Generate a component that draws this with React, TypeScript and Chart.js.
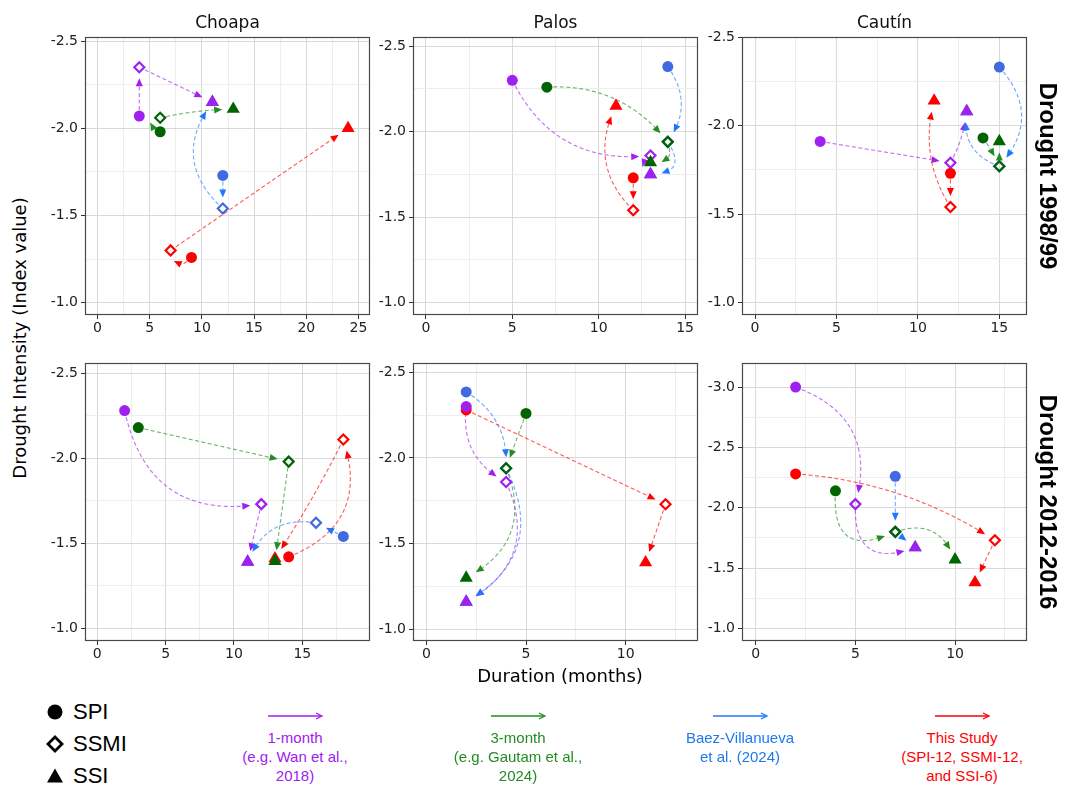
import React, { useEffect, useRef } from 'react';
import { Chart, registerables } from 'chart.js';
Chart.register(...registerables);

// ---------- DATA ----------
// Each array: 1-month (SPI, SSMI, SSI), 3-month (SPI, SSMI, SSI),
// Baez-Villanueva (SPI, SSMI, SSI), This Study (SPI, SSMI, SSI)
const choapa98Duration = [4, 4, 11, 6, 6, 13, 12, 12, 11, 9, 7, 24];
const choapa98Intensity = [-2.07, -2.35, -2.15, -1.98, -2.06, -2.11, -1.73, -1.54, -2.15, -1.26, -1.3, -2.0];
const palos98Duration = [5, 13, 13, 7, 14, 13, 14, 14, 13, 12, 12, 11];
const palos98Intensity = [-2.3, -1.86, -1.75, -2.26, -1.94, -1.82, -2.38, -1.94, -1.75, -1.73, -1.54, -2.15];
const cautin98Duration = [4, 12, 13, 14, 15, 15, 15, 15, 13, 12, 12, 11];
const cautin98Intensity = [-1.91, -1.79, -2.08, -1.93, -1.77, -1.91, -2.33, -1.77, -2.08, -1.73, -1.54, -2.14];
const choapa12Duration = [2, 12, 11, 3, 14, 13, 18, 16, 11, 14, 18, 13];
const choapa12Intensity = [-2.28, -1.73, -1.39, -2.18, -1.98, -1.395, -1.54, -1.62, -1.39, -1.42, -2.11, -1.41];
const palos12Duration = [2, 4, 2, 5, 4, 2, 2, 4, 2, 2, 12, 11];
const palos12Intensity = [-2.3, -1.86, -1.16, -2.26, -1.94, -1.3, -2.385, -1.94, -1.16, -2.28, -1.73, -1.39];
const cautin12Duration = [2, 5, 8, 4, 7, 10, 7, 7, 8, 2, 12, 11];
const cautin12Intensity = [-3.0, -2.03, -1.67, -2.14, -1.8, -1.57, -2.26, -1.8, -1.67, -2.28, -1.73, -1.38];

// curvature of each arrow: per method (SPI->SSMI, SSMI->SSI)
const choapa98Curve = [0, 0, 1.6, 0.05, 0, 0.45, 1.0, 0];
const palos98Curve = [-0.35, -0.9, 0.26, 0.8, 0.36, 0.9, 0, 0.36];
const cautin98Curve = [0, -0.1, 0.05, 0, 0.45, 0.42, 0, 0.22];
const choapa12Curve = [-0.47, 0, 0, 0, 0, -0.4, -0.47, 0.03];
const palos12Curve = [-0.35, 0.46, 0, 0.45, 0.3, 0.47, 0, 0];
const cautin12Curve = [0.46, -0.75, -0.84, 0.48, 0, 0, 0.13, 0];

const methodLabels = ['1-month', '3-month', 'Baez-Villanueva', 'This Study'];
const indexLabels = ['SPI', 'SSMI', 'SSI'];
const basinTitles = ['Choapa', 'Palos', 'Cautín'];
const droughtLabels = ['Drought 1998/99', 'Drought 2012-2016'];
const xTicksA = [0, 5, 10, 15, 20, 25];
const xTicksB = [0, 5, 10, 15];
const xTicksC = [0, 5, 10];
const yTicksA = [-2.5, -2.0, -1.5, -1.0];
const yTicksB = [-3.0, -2.5, -2.0, -1.5, -1.0];

const pointColors = ['#A020F0', '#006400', '#4169E1', '#FF0000'];
const arrowColors = ['160,32,240', '34,139,34', '30,120,255', '255,0,0'];
const legendTextColors = ['#A020F0', '#228B22', '#1E78F0', '#FF0000'];

const panels = [
  { dur: choapa98Duration, int: choapa98Intensity, curv: choapa98Curve, xr: [-1.2, 26.1], yr: [-2.523, -0.93], xt: xTicksA, yt: yTicksA, col: 0, row: 0 },
  { dur: palos98Duration, int: palos98Intensity, curv: palos98Curve, xr: [-0.75, 15.75], yr: [-2.553, -0.928], xt: xTicksB, yt: yTicksA, col: 1, row: 0 },
  { dur: cautin98Duration, int: cautin98Intensity, curv: cautin98Curve, xr: [-0.8, 16.7], yr: [-2.5, -0.93], xt: xTicksB, yt: yTicksA, col: 2, row: 0 },
  { dur: choapa12Duration, int: choapa12Intensity, curv: choapa12Curve, xr: [-0.9, 19.95], yr: [-2.56, -0.925], xt: xTicksB, yt: yTicksA, col: 0, row: 1 },
  { dur: palos12Duration, int: palos12Intensity, curv: palos12Curve, xr: [-0.67, 13.63], yr: [-2.554, -0.932], xt: xTicksC, yt: yTicksA, col: 1, row: 1 },
  { dur: cautin12Duration, int: cautin12Intensity, curv: cautin12Curve, xr: [-0.69, 13.61], yr: [-3.2, -0.895], xt: xTicksC, yt: yTicksB, col: 2, row: 1 },
];

// ---------- LAYOUT ----------
const COL_LEFT = [85, 413, 742];
const ROW_TOP = [37, 363];
const PANEL_W = 285;
const PANEL_H = 278;
const YAXIS_W = 50;
const XAXIS_H = 30;
const PAD = 12;

const START_GAP = 6;
const END_GAP = 11;
const HEAD_LEN = 8;
const HEAD_HW = 3.5;

function withMinor(ticks: number[], step: number, lo: number, hi: number) {
  const out: number[] = [];
  const first = ticks[0] - step * 2;
  const last = ticks[ticks.length - 1] + step * 2;
  for (let v = first; v <= last + 1e-9; v += step / 2) {
    const r = Math.round(v * 1000) / 1000;
    if (r >= lo && r <= hi) out.push(r);
  }
  return out;
}

function isMajor(v: number, step: number) {
  const q = v / step;
  return Math.abs(q - Math.round(q)) < 1e-6;
}

function drawCurvedArrow(ctx: CanvasRenderingContext2D, x0: number, y0: number, x1: number, y1: number, c: number, rgb: string) {
  const dx = x1 - x0, dy = y1 - y0;
  const cx = (x0 + x1) / 2 + c * dy;
  const cy = (y0 + y1) / 2 - c * dx;
  const N = 300;
  const pts: number[][] = [];
  for (let i = 0; i <= N; i++) {
    const t = i / N;
    const a = (1 - t) * (1 - t), b = 2 * (1 - t) * t, d = t * t;
    pts.push([a * x0 + b * cx + d * x1, a * y0 + b * cy + d * y1]);
  }
  let s = 0;
  while (s < N && Math.hypot(pts[s][0] - x0, pts[s][1] - y0) < START_GAP) s++;
  let e = N;
  while (e > s && Math.hypot(pts[e][0] - x1, pts[e][1] - y1) < END_GAP) e--;
  if (e - s < 2) return;
  const tip = pts[e];
  let k = e;
  while (k > s && Math.hypot(pts[k][0] - tip[0], pts[k][1] - tip[1]) < HEAD_LEN) k--;
  const ang = Math.atan2(tip[1] - pts[k][1], tip[0] - pts[k][0]);
  ctx.save();
  ctx.strokeStyle = `rgba(${rgb},0.65)`;
  ctx.lineWidth = 1.1;
  ctx.setLineDash([4, 2.5]);
  ctx.beginPath();
  ctx.moveTo(pts[s][0], pts[s][1]);
  for (let i = s + 1; i <= k; i++) ctx.lineTo(pts[i][0], pts[i][1]);
  ctx.stroke();
  ctx.setLineDash([]);
  ctx.fillStyle = `rgb(${rgb})`;
  const bx = tip[0] - HEAD_LEN * Math.cos(ang), by = tip[1] - HEAD_LEN * Math.sin(ang);
  ctx.beginPath();
  ctx.moveTo(tip[0], tip[1]);
  ctx.lineTo(bx + HEAD_HW * Math.sin(ang), by - HEAD_HW * Math.cos(ang));
  ctx.lineTo(bx - HEAD_HW * Math.sin(ang), by + HEAD_HW * Math.cos(ang));
  ctx.closePath();
  ctx.fill();
  ctx.restore();
}

function buildConfig(p: any) {
  const drawOrder = [1, 0, 2, 3]; // index 0 drawn on top
  const datasets = drawOrder.map((m) => ({
    label: methodLabels[m],
    data: [0, 1, 2].map((k) => ({ x: p.dur[m * 3 + k], y: p.int[m * 3 + k] })),
    pointStyle: ['circle', 'rectRot', 'triangle'],
    pointRadius: [5.5, 5, 7.6],
    pointHoverRadius: [5.5, 5, 7.6],
    pointBackgroundColor: [pointColors[m], 'rgba(0,0,0,0)', pointColors[m]],
    pointBorderColor: pointColors[m],
    pointBorderWidth: [0, 2.2, 0],
    showLine: false,
  }));
  const xStep = 5, yStep = 0.5;
  const xAll = withMinor(p.xt, xStep, p.xr[0], p.xr[1]);
  const yAll = withMinor(p.yt, yStep, p.yr[0], p.yr[1]);
  const arrowPlugin = {
    id: 'curvedArrows',
    beforeDatasetsDraw(chart: any) {
      const { ctx, chartArea, scales } = chart;
      ctx.save();
      ctx.beginPath();
      ctx.rect(chartArea.left, chartArea.top, chartArea.right - chartArea.left, chartArea.bottom - chartArea.top);
      ctx.clip();
      for (let m = 0; m < 4; m++) {
        for (let s = 0; s < 2; s++) {
          const i0 = m * 3 + s, i1 = i0 + 1;
          drawCurvedArrow(
            ctx,
            scales.x.getPixelForValue(p.dur[i0]), scales.y.getPixelForValue(p.int[i0]),
            scales.x.getPixelForValue(p.dur[i1]), scales.y.getPixelForValue(p.int[i1]),
            p.curv[m * 2 + s], arrowColors[m]
          );
        }
      }
      ctx.restore();
    },
  };
  const borderPlugin = {
    id: 'panelBorder',
    afterDraw(chart: any) {
      const { ctx, chartArea } = chart;
      ctx.save();
      ctx.strokeStyle = '#4a4a4a';
      ctx.lineWidth = 1.2;
      ctx.strokeRect(chartArea.left + 0.5, chartArea.top + 0.5, chartArea.right - chartArea.left - 1, chartArea.bottom - chartArea.top - 1);
      ctx.restore();
    },
  };
  const tickFont = { family: 'DejaVu Sans', size: 14 };
  return {
    type: 'scatter',
    data: { datasets },
    options: {
      animation: false,
      responsive: false,
      maintainAspectRatio: false,
      events: [],
      layout: { padding: { top: PAD, right: PAD, left: 0, bottom: 0 }, autoPadding: false },
      plugins: { legend: { display: false }, tooltip: { enabled: false } },
      scales: {
        x: {
          type: 'linear',
          min: p.xr[0],
          max: p.xr[1],
          afterBuildTicks: (sc: any) => { sc.ticks = xAll.map((v) => ({ value: v })); },
          afterFit: (sc: any) => { sc.height = XAXIS_H; },
          border: { display: false },
          grid: {
            color: (c: any) => (c.tick && isMajor(c.tick.value, xStep) ? '#d9d9d9' : '#eeeeee'),
            tickColor: (c: any) => (c.tick && isMajor(c.tick.value, xStep) ? '#333333' : 'rgba(0,0,0,0)'),
            tickLength: 4,
            lineWidth: 1,
          },
          ticks: {
            autoSkip: false,
            maxRotation: 0,
            padding: 1,
            color: '#222',
            font: tickFont,
            callback: (v: number) => (isMajor(v, xStep) ? String(Math.round(v)) : ''),
          },
        },
        y: {
          type: 'linear',
          reverse: true,
          min: p.yr[0],
          max: p.yr[1],
          afterBuildTicks: (sc: any) => { sc.ticks = yAll.map((v) => ({ value: v })); },
          afterFit: (sc: any) => { sc.width = YAXIS_W; },
          border: { display: false },
          grid: {
            color: (c: any) => (c.tick && isMajor(c.tick.value, yStep) ? '#d9d9d9' : '#eeeeee'),
            tickColor: (c: any) => (c.tick && isMajor(c.tick.value, yStep) ? '#333333' : 'rgba(0,0,0,0)'),
            tickLength: 4,
            lineWidth: 1,
          },
          ticks: {
            autoSkip: false,
            padding: 3,
            color: '#222',
            font: tickFont,
            callback: (v: number) => (isMajor(v, yStep) ? v.toFixed(1) : ''),
          },
        },
      },
    },
    plugins: [arrowPlugin, borderPlugin],
  };
}

function Panel({ p }: { p: any }) {
  const ref = useRef<HTMLCanvasElement>(null);
  const cw = YAXIS_W + PANEL_W + PAD;
  const ch = PAD + PANEL_H + XAXIS_H;
  useEffect(() => {
    const chart = new Chart(ref.current as HTMLCanvasElement, buildConfig(p) as any);
    return () => chart.destroy();
  }, []);
  return (
    <canvas
      ref={ref}
      width={cw}
      height={ch}
      style={{ position: 'absolute', left: COL_LEFT[p.col] - YAXIS_W, top: ROW_TOP[p.row] - PAD, width: cw, height: ch }}
    />
  );
}

const abs = (o: any) => ({ position: 'absolute' as const, ...o });

function ShapeIcon({ k }: { k: number }) {
  if (k === 0) return <svg width={18} height={18}><circle cx={9} cy={9} r={7.5} fill="#000" /></svg>;
  if (k === 1) return <svg width={18} height={18}><polygon points="9,2 16,9 9,16 2,9" fill="none" stroke="#000" strokeWidth={2.8} /></svg>;
  return <svg width={18} height={18}><polygon points="9,1.5 17,15.5 1,15.5" fill="#000" /></svg>;
}

export default function App() {
  const legendCenters = [295, 518, 740, 962];
  const legendText = [
    ['1-month', '(e.g. Wan et al.,', '2018)'],
    ['3-month', '(e.g. Gautam et al.,', '2024)'],
    ['Baez-Villanueva', 'et al. (2024)'],
    ['This Study', '(SPI-12, SSMI-12,', 'and SSI-6)'],
  ];
  return (
    <div style={abs({ left: 0, top: 0, width: 1065, height: 786, background: '#fff', overflow: 'hidden' })}>
      {panels.map((p, i) => <Panel key={i} p={p} />)}
      {basinTitles.map((t, i) => (
        <div key={t} style={abs({ left: COL_LEFT[i] + PANEL_W / 2 - 100, top: 12, width: 200, textAlign: 'center', font: '17px "DejaVu Sans"', lineHeight: '20px', color: '#111' })}>{t}</div>
      ))}
      {droughtLabels.map((t, i) => (
        <div key={t} style={abs({ left: 1048 - 150, top: ROW_TOP[i] + PANEL_H / 2 - 15, width: 300, height: 30, textAlign: 'center', font: 'bold 24px "Liberation Sans"', lineHeight: '30px', color: '#000', transform: 'rotate(90deg)' })}>{t}</div>
      ))}
      <div style={abs({ left: 20 - 200, top: 338 - 12, width: 400, height: 24, textAlign: 'center', font: '18px "DejaVu Sans"', lineHeight: '24px', color: '#000', transform: 'rotate(-90deg)' })}>
        Drought Intensity (Index value)
      </div>
      <div style={abs({ left: 560 - 150, top: 664, width: 300, textAlign: 'center', font: '18px "DejaVu Sans"', lineHeight: '24px', color: '#000' })}>
        Duration (months)
      </div>
      {indexLabels.map((t, k) => (
        <div key={t} style={abs({ left: 46, top: 712 + k * 32 - 14, height: 28, display: 'flex', alignItems: 'center', font: '22px "Liberation Sans"', color: '#000' })}>
          <ShapeIcon k={k} />
          <span style={{ marginLeft: 9 }}>{t}</span>
        </div>
      ))}
      {methodLabels.map((m, i) => (
        <React.Fragment key={m}>
          <svg style={abs({ left: legendCenters[i] - 28, top: 709 })} width={58} height={14}>
            <line x1={1} y1={7} x2={54} y2={7} stroke={`rgb(${arrowColors[i]})`} strokeWidth={1.5} />
            <polyline points="49,4 55,7 49,10" fill="none" stroke={`rgb(${arrowColors[i]})`} strokeWidth={1.3} />
          </svg>
          <div style={abs({ left: legendCenters[i] - 90, top: 728, width: 180, textAlign: 'center', font: '15px "Liberation Sans"', lineHeight: '19px', color: legendTextColors[i] })}>
            {legendText[i].map((l, j) => <div key={j}>{l}</div>)}
          </div>
        </React.Fragment>
      ))}
    </div>
  );
}
